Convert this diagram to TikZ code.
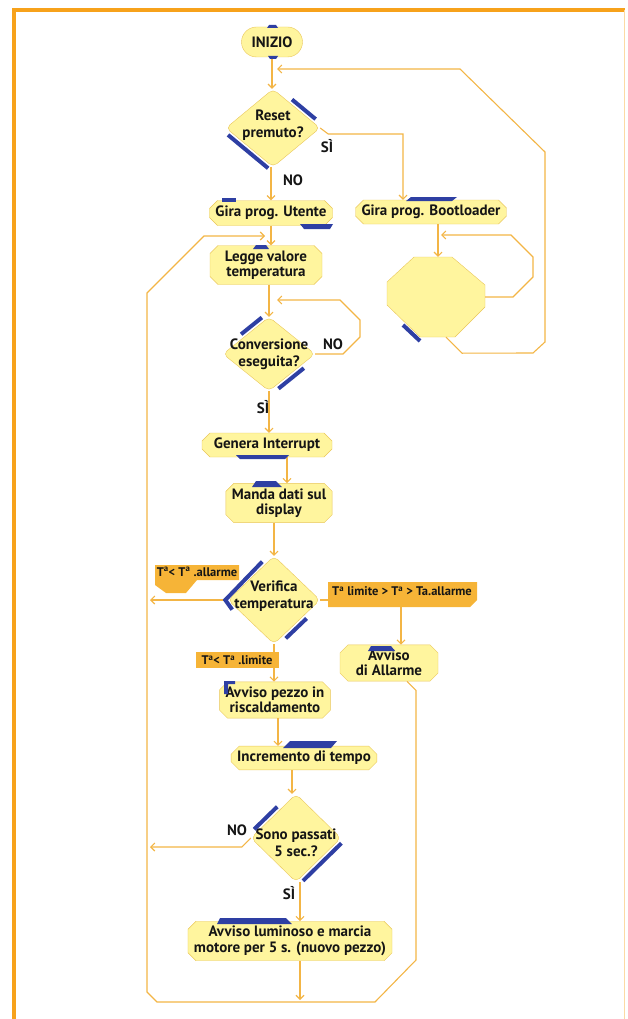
\documentclass[tikz,border=0pt]{standalone}
\usepackage{fontspec}
\setmainfont{PT Sans}
\usepackage{xcolor}
\usetikzlibrary{shapes,arrows.meta,positioning,calc}

\definecolor{frameor}{HTML}{F7A21B}
\definecolor{lineor}{HTML}{F3B545}
\definecolor{boxfill}{HTML}{FFF59E}
\definecolor{boxline}{HTML}{E9C65A}
\definecolor{accentblue}{HTML}{2E3FA3}
\definecolor{tabor}{HTML}{F6B437}
\definecolor{ink}{HTML}{151515}

\tikzset{
  box/.style={chamfered rectangle, chamfered rectangle xsep=4pt, chamfered rectangle ysep=4pt,
    draw=boxline, fill=boxfill, thin, inner xsep=2pt, inner ysep=1pt, align=center,
    text=ink, font=\fontsize{15}{15.5}\selectfont\bfseries},
  decision/.style={diamond, draw=boxline, fill=boxfill, thin, inner sep=0pt, rounded corners=5pt},
  dtext/.style={align=center, text=ink, font=\fontsize{15}{17}\selectfont\bfseries},
  flow/.style={draw=lineor, line width=1.1pt, -{Straight Barb[length=4pt,width=8pt]}},
  tab/.style={text=ink, font=\fontsize{12.5}{13}\selectfont\bfseries, inner sep=1pt},
  lbl/.style={text=ink, font=\fontsize{15}{15}\selectfont\bfseries},
  accent/.style={fill=accentblue},
  accentline/.style={draw=accentblue, line width=4pt}
}

\begin{document}
\begin{tikzpicture}[x=1pt,y=-1pt]
\useasboundingbox (0,0) rectangle (627,1019);

% Frame
\draw[frameor, line width=4pt] (14,1019) -- (14,10) -- (625,10);
\draw[frameor!40, line width=1pt] (624,10) -- (624,1019);

% Bootloader wait block (octagon)
\filldraw[draw=boxline, fill=boxfill, thin] (387,282) -- (414,257) -- (452,257) -- (485,285)
  -- (485,307) -- (455,337) -- (420,337) -- (387,305) -- cycle;

% Blocks
\node[box, rounded rectangle, minimum width=65pt, minimum height=30pt] (inizio) at (272,42) {INIZIO};
\node[decision, minimum width=94pt, minimum height=78pt, label={[dtext, yshift=3]center:{Reset\\premuto?}}] (reset) at (273,128) {};
\node[box, minimum width=122pt, minimum height=25pt] (utente) at (271,213) {Gira prog. Utente};
\node[box, minimum width=142pt, minimum height=24pt] (boot) at (431,212) {Gira prog. Bootloader};
\node[minimum width=98pt, minimum height=80pt, inner sep=0pt] (bootloop) at (436,297) {};
\node[box, minimum width=112pt, minimum height=36pt] (legge) at (266,265) {Legge valore\\temperatura};
\node[decision, minimum width=92pt, minimum height=74pt, label={[dtext]center:{Conversione\\eseguita?}}] (conv) at (269,354) {};
\node[box, minimum width=130pt, minimum height=24pt] (genera) at (267,445) {Genera Interrupt};
\node[box, minimum width=102pt, minimum height=33pt] (manda) at (279,503) {Manda dati sul\\display};
\node[decision, minimum width=92pt, minimum height=88pt, label={[dtext, yshift=4]center:{Verifica\\temperatura}}] (verif) at (274,600) {};
\node[box, minimum width=98pt, minimum height=27pt] (allarme) at (389,663) {Avviso\\di Allarme};
\node[box, minimum width=100pt, minimum height=36pt] (pezzo) at (275,700) {Avviso pezzo in\\riscaldamento};
\node[box, minimum width=138pt, minimum height=22pt] (incr) at (304,758) {Incremento di tempo};
\node[decision, minimum width=90pt, minimum height=88pt, label={[dtext, yshift=-5]center:{Sono passati\\5 sec.?}}] (passati) at (296,838) {};
\node[box, minimum width=196pt, minimum height=37pt] (luminoso) at (290,941) {Avviso luminoso e marcia\\motore per 5 s. (nuovo pezzo)};

% Loop entry points
\coordinate (resetin) at (277,69);
\coordinate (bootin) at (441,235);
\coordinate (uin) at (265,236);
\coordinate (convin) at (277,300);
\coordinate (leftA) at (150,600);
\coordinate (leftB) at (150,847);
\coordinate (botin) at (300,1000);

% Main flow
\draw[flow] (inizio.south) -- (inizio.south |- reset.north);
\draw[flow] (reset.south -| utente.north) -- (utente.north);
\draw[flow] (reset.east) -- ++(8,6) -| ([xshift=-28]boot.north);
\draw[flow] ([xshift=7]boot.south) -- ([xshift=7]boot.south |- bootloop.north);
\draw[flow] (utente.south) -- (utente.south |- legge.north);
\draw[flow] (conv.north |- legge.south) -- (conv.north);
\draw[flow] (conv.south) -- (conv.south |- genera.north);
\draw[flow] ([xshift=20]genera.south) -- ([xshift=20]genera.south |- manda.north);
\draw[flow] (verif.north |- manda.south) -- (verif.north);
\draw[flow] (verif.west) -- (leftA);
\draw[flow] (verif.east) -| ([xshift=12]allarme.north);
\draw[flow] (verif.south) -- (verif.south |- pezzo.north);
\draw[flow] ([xshift=3]pezzo.south) -- ([xshift=3]pezzo.south |- incr.north);
\draw[flow] ([xshift=-12]incr.south) -- ([xshift=-12]incr.south |- passati.north);
\draw[flow] (passati.west) -- ++(-9,9) -- (leftB);
\draw[flow] ([xshift=4]passati.south) -- ([xshift=4]passati.south |- luminoso.north);
\draw[flow] (botin |- luminoso.south) -- (botin);

% Loops
\draw[flow] (conv.east) -- (343,354) -- (360,337) -- (360,320) -- (340,300) -- (convin);
\draw[flow] (bootloop.east) -- (513,297) -- (533,277) -- (533,257) -- (511,235) -- (bootin);
\draw[flow] ([xshift=10]bootloop.south) -- ++(16,16) -- (533,353) -- (545,342) -- (545,152) -- (460,69) -- (resetin);
\draw[flow] ([xshift=18]allarme.south) -- ++(9,9) -- (416,960) -- (375,1002) -- (157,1002)
  -- (147,992) -- (147,293) -- (204,236) -- (uin);

% Labels
\node[lbl] (nreset) at (293,180) {NO};
\node[lbl] (sreset) at (327,146) {SÌ};
\node[lbl] (nconv) at (333,344) {NO};
\node[lbl] (sconv) at (263,407) {SÌ};
\node[lbl] (npass) at (237,830) {NO};
\node[lbl] (spass) at (289,893) {SÌ};

% Tabs
\fill[tabor] (155,565) -- (239,565) -- (239,580) -- (197,580) -- (186,593) -- (166,593) -- (155,585) -- cycle;
\node[tab] (tabA) at (197,572) {T\textsuperscript{a}< T\textsuperscript{a} .allarme};
\fill[tabor] (328,582) -- (477,582) -- (477,600) -- (470,607) -- (328,607) -- cycle;
\node[tab] (tabB) at (402,591) {T\textsuperscript{a} limite > T\textsuperscript{a} > Ta.allarme};
\fill[tabor] (196,652) rectangle (279,668);
\node[tab] (tabC) at (237,660) {T\textsuperscript{a}< T\textsuperscript{a} .limite};

% Blue accents
\fill[accent] (267,28) -- (269,25) -- (276,25) -- (278,28) -- cycle;
\fill[accent] (268,56) -- (278,56) -- (276,59) -- (270,59) -- cycle;
\draw[accentline] ($(reset.north)!.35!(reset.east)+(2.5,-3)$) -- ($(reset.north)!.85!(reset.east)+(2.5,-3)$);
\draw[accentline] ($(reset.west)!.1!(reset.south)+(-2.5,3)$) -- ($(reset.west)!.95!(reset.south)+(-2.5,3)$);
\draw[accentline] ($(conv.west)!.45!(conv.north)+(-2.5,-3)$) -- ($(conv.west)!.9!(conv.north)+(-2.5,-3)$);
\draw[accentline] ($(conv.east)!.3!(conv.south)+(2.5,3)$) -- ($(conv.east)!.85!(conv.south)+(2.5,3)$);
\draw[accentline] ($(verif.north)!.2!(verif.west)+(-2.5,-3)$) -- ($(verif.north)!1!(verif.west)+(-2.5,0)$)
  -- ($(verif.west)!.15!(verif.south)+(-2.5,3)$);
\draw[accentline] ($(verif.east)!.35!(verif.south)+(2.5,3)$) -- ($(verif.east)!.8!(verif.south)+(2.5,3)$);
\draw[accentline] ($(passati.west)!.13!(passati.north)+(-2.5,-3)$) -- ($(passati.west)!.64!(passati.north)+(-2.5,-3)$);
\draw[accentline] ($(passati.east)!.05!(passati.south)+(2.5,3)$) -- ($(passati.east)!.9!(passati.south)+(2.5,3)$);
\draw[accentline] (403,325) -- (420,341);
\fill[accent] (222,198) rectangle (236,202);
\fill[accent] (300,224) -- (333,224) -- (330,229) -- (304,229) -- cycle;
\fill[accent] (406,201) -- (411,197) -- (457,197) -- (452,201) -- cycle;
\fill[accent] (253,249) -- (256,245) -- (266,245) -- (269,249) -- cycle;
\fill[accent] (236,455) -- (289,455) -- (285,459) -- (240,459) -- cycle;
\fill[accent] (252,487) -- (256,481) -- (276,481) -- (282,487) -- cycle;
\fill[accent] (368,651) -- (371,646) -- (391,646) -- (395,651) -- cycle;
\fill[accent] (224,681) -- (235,681) -- (235,684) -- (228,684) -- (228,694) -- (224,694) -- cycle;
\fill[accent] (283,748) -- (290,741) -- (337,741) -- (331,748) -- cycle;
\fill[accent] (217,924) -- (220,918) -- (286,918) -- (292,924) -- cycle;
\end{tikzpicture}
\end{document}
